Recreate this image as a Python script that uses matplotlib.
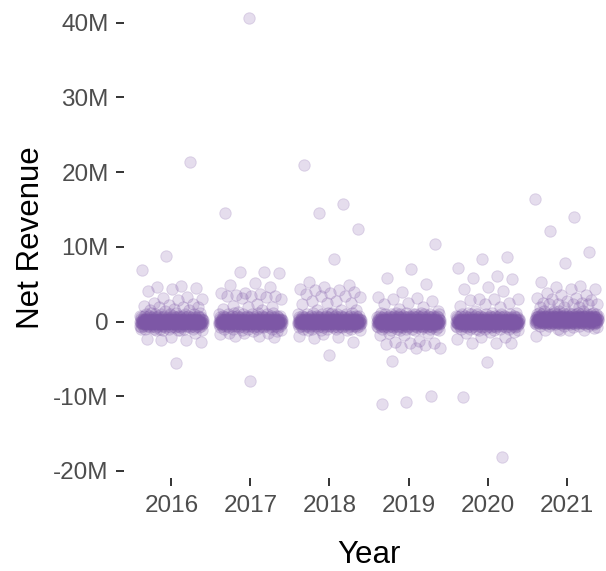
import numpy as np
import matplotlib.pyplot as plt
from matplotlib.ticker import FuncFormatter

plt.rcParams['font.family'] = ['Liberation Sans', 'DejaVu Sans']

years = [2016, 2017, 2018, 2019, 2020, 2021]

# dense band around zero, net revenue in millions, and how many stores sit at each value
core_values = [-1.2, -1.0, -0.8, -0.6, -0.4, -0.2, 0.0, 0.2, 0.4, 0.6, 0.8, 1.0, 1.2]
core_counts_2016 = [3, 6, 10, 18, 30, 45, 55, 45, 30, 18, 10, 6, 3]
core_counts_2017 = [2, 5, 9, 17, 30, 45, 55, 45, 30, 17, 9, 5, 3]
core_counts_2018 = [2, 5, 9, 17, 30, 45, 55, 45, 30, 17, 9, 6, 3]
core_counts_2019 = [4, 7, 12, 20, 32, 46, 55, 46, 32, 20, 12, 7, 4]
core_counts_2020 = [3, 6, 10, 18, 30, 45, 55, 45, 30, 18, 10, 6, 3]
core_counts_2021 = [1, 2, 5, 10, 22, 40, 55, 50, 38, 24, 12, 6, 3]

# everything outside the band (millions)
rev_2016 = [21.4, 8.8, 6.9, 4.7, 4.6, 4.5, 4.4, 4.1, 3.3, 3.1, 3.0, 2.9, 2.5,
            2.3, 2.2, 2.1, 1.9, 1.9, 1.9, 1.7, 1.5, 1.5, 1.4,
            -1.0, -1.1, -1.1, -1.5, -2.1, -2.3, -2.5, -2.5, -2.7, -5.6]
rev_2017 = [40.6, 14.5, 6.6, 6.6, 6.5, 5.1, 4.9, 4.6, 3.8, 3.8, 3.7, 3.6,
            3.4, 3.4, 3.4, 3.3, 3.2, 3.0, 2.3, 2.1, 1.9, 1.9, 1.7, 1.6, 1.3,
            -1.3, -1.3, -1.5, -1.5, -1.6, -1.7, -1.9, -2.0, -2.1, -8.0]
rev_2018 = [21.0, 15.7, 14.5, 12.4, 8.4, 5.3, 4.9, 4.6, 4.4, 4.2, 4.2, 3.9,
            3.8, 3.7, 3.4, 3.4, 3.3, 2.8, 2.7, 2.5, 2.5, 2.4, 1.5, 1.5, 1.5,
            1.2, -1.1, -1.1, -1.7, -2.0, -2.1, -2.2, -2.7, -4.5]
rev_2019 = [10.4, 7.0, 5.8, 5.0, 4.0, 3.3, 3.2, 3.0, 2.7, 2.5, 2.3, 2.0,
            1.7, 1.4, 1.0, -1.6, -1.6, -1.8, -1.8, -2.6, -2.7, -2.9, -2.9,
            -3.0, -3.1, -3.4, -3.5, -3.5, -5.3, -10.0, -10.8, -11.1]
rev_2020 = [8.7, 8.3, 7.2, 6.1, 5.8, 5.7, 4.6, 4.4, 4.1, 3.0, 3.0, 3.0,
            2.9, 2.5, 2.3, 2.1, 1.9, 1.4, -1.4, -1.4, -1.6, -2.1, -2.1,
            -2.3, -2.9, -2.9, -2.9, -5.4, -10.1, -18.1]
rev_2021 = [16.4, 14.0, 12.1, 9.3, 7.8, 5.3, 4.7, 4.6, 4.4, 4.3, 3.8, 3.6,
            3.5, 3.2, 3.1, 3.0, 2.9, 2.7, 2.5, 2.5, 2.4, 2.3, 2.3, 2.3, 2.3,
            2.0, 2.0, 1.9, 1.4, -0.9, -1.1, -1.1, -1.2, -1.2, -1.9]

core_counts = [core_counts_2016, core_counts_2017, core_counts_2018,
               core_counts_2019, core_counts_2020, core_counts_2021]
spread = [rev_2016, rev_2017, rev_2018, rev_2019, rev_2020, rev_2021]
core_shift = [0, 0, 0, 0, 0, 0.2]

point_rgba = (0.49, 0.34, 0.65, 0.2)

fig = plt.figure(figsize=(6.06, 5.71), dpi=100)
ax = fig.add_axes([124 / 606, 92.6 / 571, 490 / 606, 481.9 / 571])

golden = 0.6180339887
for i, yr in enumerate(years):
    vals = np.repeat(np.array(core_values) + core_shift[i], core_counts[i])
    vals = np.concatenate([vals, spread[i]]) * 1e6
    # evenly spread horizontal jitter, +-0.4 of a year
    jit = ((np.arange(len(vals)) * golden + 0.37) % 1.0 - 0.5) * 0.8
    ax.scatter(yr + jit, vals, s=68, facecolor=point_rgba,
               edgecolor=point_rgba, linewidth=0.7, zorder=2)

ax.set_xlim(2015.4, 2021.6)
ax.set_ylim(-21.0e6, 43.5e6)
ax.set_xticks(years)
ax.set_yticks([-20e6, -10e6, 0, 10e6, 20e6, 30e6, 40e6])


def fmt_m(v, pos):
    if v == 0:
        return '0'
    return '%dM' % round(v / 1e6)


ax.yaxis.set_major_formatter(FuncFormatter(fmt_m))

for s in ax.spines.values():
    s.set_visible(False)
ax.tick_params(axis='both', length=6, width=1.4, color='#333333',
               labelcolor='#4D4D4D', labelsize=17.5)
ax.tick_params(axis='x', pad=6)
ax.tick_params(axis='y', pad=5)

ax.set_xlabel('Year', fontsize=22.5, color='black')
ax.set_ylabel('Net Revenue', fontsize=22.5, color='black')
ax.xaxis.set_label_coords(0.5, -0.128)
ax.yaxis.set_label_coords(-0.16, 0.5)

fig.savefig('out.png', dpi=100)
